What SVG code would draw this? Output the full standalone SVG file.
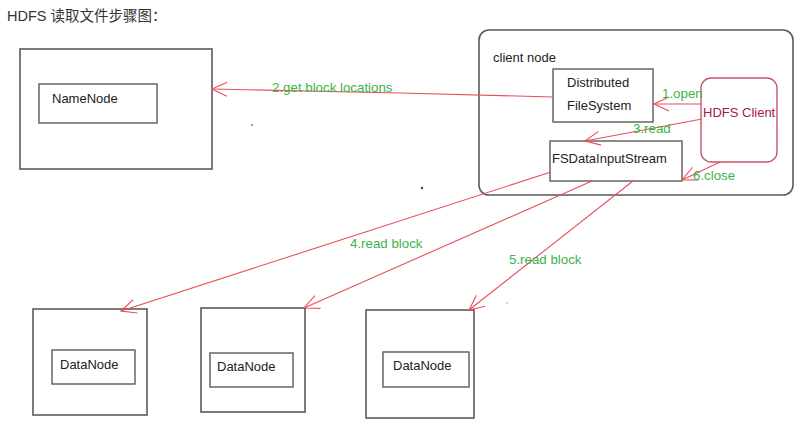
<svg xmlns="http://www.w3.org/2000/svg" width="809" height="435" viewBox="0 0 809 435">
<style>
.box{fill:#fff;stroke:#5a5a5a;stroke-width:1.6}
.inner{fill:#fff;stroke:#5a5a5a;stroke-width:1.4}
.t{font-family:"Liberation Sans",Arial,sans-serif;font-size:13px;fill:#222}
.g{font-family:"Liberation Sans",Arial,sans-serif;font-size:13.3px;fill:#3bb34a}
.arr{fill:none;stroke:#e8505b;stroke-width:1.1;marker-end:url(#ah)}
</style>
<defs>
<marker id="ah" markerUnits="userSpaceOnUse" viewBox="-16 -10 18 20" refX="0" refY="0" markerWidth="18" markerHeight="20" orient="auto">
<path d="M-15,-7 L0,0 L-15,7" fill="none" stroke="#e8505b" stroke-width="1.1"/>
</marker>
</defs>
<rect width="809" height="435" fill="#fff"/>
<text x="7" y="21" font-family="'Liberation Sans','Noto Sans CJK SC',sans-serif" font-size="14.5" fill="#333">HDFS 读取文件步骤图：</text>

<g id="namenode">
<rect class="box" x="20" y="49" width="192" height="120" stroke-width="2"/>
<rect class="inner" x="39" y="84" width="118" height="39"/>
<text class="t" x="52" y="103" font-size="14">NameNode</text>
</g>

<g id="clientnode">
<rect class="box" x="479" y="30" width="314" height="165" rx="10"/>
<text class="t" x="493" y="62" font-size="14">client node</text>
</g>
<g id="dfs">
<rect class="inner" x="553" y="69" width="100" height="53"/>
<text class="t" x="567" y="87" font-size="13.5">Distributed</text>
<text class="t" x="567" y="110" font-size="13.5">FileSystem</text>
</g>
<g id="fsdis">
<rect class="inner" x="550" y="141" width="132" height="40"/>
<text class="t" x="552" y="163" font-size="13.5">FSDataInputStream</text>
</g>
<g id="hdfsclient">
<rect x="701" y="78" width="76" height="84" rx="10" fill="#fff" stroke="#c8566a" stroke-width="1.4"/>
<text x="703" y="117" font-family="'Liberation Sans',Arial,sans-serif" font-size="13" fill="#a3203f">HDFS Client</text>
</g>

<g id="datanode1">
<rect class="box" x="33" y="309" width="114" height="106"/>
<rect class="inner" x="52" y="350" width="83" height="34"/>
<text class="t" x="60" y="369">DataNode</text>
</g>
<g id="datanode2">
<rect class="box" x="201" y="308" width="104" height="104"/>
<rect class="inner" x="210" y="353" width="83" height="34"/>
<text class="t" x="217" y="371">DataNode</text>
</g>
<g id="datanode3">
<rect class="box" x="366" y="310" width="108" height="108"/>
<rect class="inner" x="383" y="352" width="86" height="35"/>
<text class="t" x="393" y="370">DataNode</text>
</g>

<g id="connectors">
<polyline class="arr" points="553,97 400,93 212,89"/>
<line class="arr" x1="701" y1="104" x2="654" y2="104"/>
<line class="arr" x1="702" y1="119" x2="585" y2="141"/>
<line class="arr" x1="720" y1="162" x2="682" y2="180"/>
<line class="arr" x1="551" y1="172" x2="121" y2="311"/>
<line class="arr" x1="592" y1="181" x2="304" y2="308"/>
<line class="arr" x1="633" y1="181" x2="469" y2="310"/>
<text class="g" x="272" y="92">2.get block locations</text>
<text class="g" x="662" y="98">1.open</text>
<text class="g" x="633" y="133">3.read</text>
<text class="g" x="693" y="180">6.close</text>
<text class="g" x="350" y="248">4.read block</text>
<text class="g" x="509" y="264">5.read block</text>
</g>
<circle cx="252" cy="125" r="1" fill="#e8505b"/>
<circle cx="422" cy="188" r="1.2" fill="#444"/>
<circle cx="507" cy="303" r="0.8" fill="#999"/>
</svg>
